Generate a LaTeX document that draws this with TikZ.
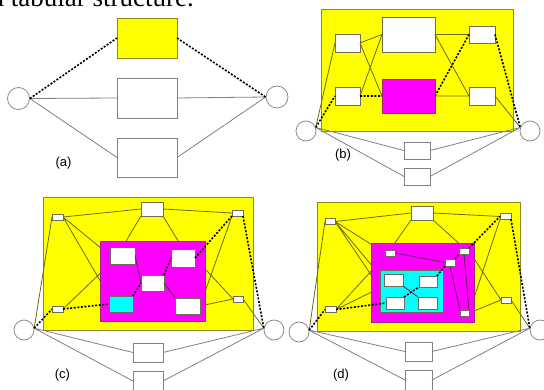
\documentclass[tikz,border=0pt]{standalone}
\usepackage{fontspec}
\setmainfont{Liberation Serif}
\setsansfont{Liberation Sans}
\usepackage{xcolor}
\usetikzlibrary{calc,positioning}
\pgfdeclarelayer{background}
\pgfdeclarelayer{under}
\pgfsetlayers{background,under,main}
\definecolor{color_yellow}{HTML}{FFFF00}
\definecolor{color_magenta}{HTML}{FF00FF}
\definecolor{color_cyan}{HTML}{00FFFF}
\definecolor{color_olive}{HTML}{8C8A1E}
\definecolor{color_olive_dark}{HTML}{6B6A10}
\definecolor{color_gray_link}{HTML}{808080}
\definecolor{color_box_edge}{HTML}{6E6E5A}
\definecolor{color_magenta_edge}{HTML}{9A2A7A}
\definecolor{color_inner_link}{HTML}{5A2A50}
\tikzset{
	sz/.style 2 args={minimum width=#1pt, minimum height=#2pt},
	box/.style={draw=color_box_edge, fill=white, line width=0.7pt, inner sep=0pt, outer sep=0pt},
	box out/.style={box, draw=color_gray_link},
	frame/.style={draw=color_olive, fill=color_yellow, line width=0.9pt, inner sep=0pt},
	term/.style={circle, draw=color_gray_link, fill=white, line width=0.7pt, minimum size=20pt, inner sep=0pt},
	link/.style={color_gray_link, line width=0.8pt},
	link in/.style={color_olive_dark, line width=0.8pt},
	link mag/.style={color_inner_link, line width=0.8pt},
	crit/.style={black, line width=1.6pt, dash pattern=on 2pt off 1.6pt},
	tag/.style={font=\fontsize{13}{15}\sffamily\selectfont},
}
\begin{document}
\begin{tikzpicture}[x=1pt,y=-1pt]
				\useasboundingbox (0, 0) rectangle (544, 390);
				% Cut-off caption line
				\node[anchor=base west, inner sep=0pt, font=\fontsize{27}{30}\selectfont] (caption) at (-8, 7) {a tabular structure.};

				% ---------------- (a)
				\node[term, minimum size=22pt] (a_L) at (18.5, 98.5) {};
				\node[term, minimum size=22pt] (a_R) at (277, 97) {};
				\node[box, fill=color_yellow, draw=color_olive, sz={60}{40}] (a_top) at (147, 38) {};
				\node[box out, sz={60}{40}] (a_mid) at (147, 98) {};
				\node[box out, sz={60}{39}] (a_bot) at (147, 157.5) {};
				\draw[link]
					(a_L.east) -- (a_mid.west)
					(a_L.east) -- (a_bot.west)
					(a_mid.east) -- (a_R.west)
					(a_bot.east) -- (a_R.west)
					;
				\draw[crit]
					(a_L.east) -- (a_top.west)
					(a_top.east) -- (a_R.west)
					;
				\node[tag] (a_tag) at (63.5, 163) {(a)};

				% ---------------- (b)
				\begin{pgfonlayer}{background}
					\node[frame, sz={192}{122}] (b_frame) at (417, 70) {};
				\end{pgfonlayer}
				\node[term] (b_L) at (306, 131) {};
				\node[term] (b_R) at (530, 131) {};
				\coordinate (b_Lp) at (b_L.20);
				\coordinate (b_Rp) at (b_R.160);
				\node[box, sz={25}{18}] (b_tl) at (347.5, 43) {};
				\node[box, sz={25}{18}] (b_bl) at (347.5, 96) {};
				\node[box, sz={53}{35}] (b_big) at (408.5, 34.5) {};
				\node[box, fill=color_magenta, draw=color_magenta_edge, sz={53}{34}] (b_mag) at (408.5, 96) {};
				\node[box, sz={26}{17}] (b_tr) at (482, 34.5) {};
				\node[box, sz={26}{18}] (b_br) at (482, 96) {};
				\node[box out, sz={26}{17}] (b_low1) at (417, 150.5) {};
				\node[box out, sz={26}{17}] (b_low2) at (417, 176.5) {};
				\draw[link in]
					(b_Lp) -- (b_tl.west)
					(b_tl.east) -- (b_big.west)
					(b_tl.east) -- (b_mag.west)
					(b_bl.east) -- (b_big.west)
					(b_big.east) -- (b_tr.west)
					(b_big.east) -- (b_br.west)
					(b_mag.east) -- (b_br.west)
					(b_br.east) -- (b_Rp)
					;
				\draw[link]
					(b_Lp) -- (b_low1.west)
					(b_Lp) -- (b_low2.west)
					(b_low1.east) -- (b_Rp)
					(b_low2.east) -- (b_Rp)
					;
				\draw[crit]
					(b_Lp) -- (b_bl.west)
					(b_bl.east) -- (b_mag.west)
					(b_mag.east) -- (b_tr.west)
					(b_tr.east) -- (b_Rp)
					;
				\node[tag] (b_tag) at (343, 155) {(b)};

				% ---------------- (c)
				\begin{pgfonlayer}{background}
					\node[frame, sz={210}{133}] (c_frame) at (148, 263.5) {};
				\end{pgfonlayer}
				\node[term] (c_L) at (24, 330) {};
				\node[term] (c_R) at (274, 330) {};
				\coordinate (c_Lp) at (c_L.10);
				\coordinate (c_Rp) at (c_R.170);
				\node[box, sz={22}{14}] (c_top) at (152, 209) {};
				\node[box, sz={11}{6}] (c_tl) at (57.5, 217) {};
				\node[box, sz={11}{6}] (c_tr) at (237.5, 213) {};
				\node[box, sz={11}{6}] (c_bl) at (57.5, 309) {};
				\node[box, sz={10}{6}] (c_br) at (238, 299) {};
				\node[box, fill=color_magenta, draw=color_magenta_edge, sz={105}{80}] (c_mag) at (152.5, 281) {};
				\node[box, sz={25}{17}] (c_i1) at (122.5, 255.5) {};
				\node[box, sz={24}{18}] (c_i2) at (183, 258) {};
				\node[box, sz={23}{16}] (c_i3) at (152.5, 283) {};
				\node[box, fill=color_cyan, sz={24}{16}] (c_i4) at (121, 304) {};
				\node[box, sz={25}{16}] (c_i5) at (187.5, 306) {};
				\node[box out, sz={30}{19}] (c_low1) at (148, 352.5) {};
				\node[box out, sz={30}{20}] (c_low2) at (148, 381) {};
				% Links that run under the magenta block
				\begin{pgfonlayer}{under}
					\draw[link in]
						(c_tl.east) -- (c_i1.west)
						(c_tl.east) -- (c_i4.north west)
						(c_bl.east) -- (c_i1.south west)
						(c_top.south west) -- (c_i1.north)
						(c_top.south east) -- (c_i2.north)
						(c_tr.south west) -- (c_i5.east)
						(c_i2.east) -- (c_br.west)
						(c_br.west) -- (c_i5.east)
						;
				\end{pgfonlayer}
				\draw[link in]
					(c_Lp) -- (c_tl.west)
					(c_tl.east) -- (c_top.west)
					(c_top.east) -- (c_tr.west)
					(c_br.east) -- (c_Rp)
					;
				\draw[link mag]
					(c_i1.east) -- (c_i3.west)
					(c_i3.east) -- (c_i5.north west)
					;
				\draw[link]
					(c_Lp) -- (c_low1.west)
					(c_Lp) -- (c_low2.west)
					(c_low1.east) -- (c_Rp)
					(c_low2.east) -- (c_Rp)
					;
				\draw[crit]
					(c_Lp) -- (c_bl.west)
					(c_bl.east) -- (c_i4.west)
					(c_i4.north east) -- (c_i3.west)
					(c_i3.north east) -- (c_i2.west)
					(c_i2.east) -- (c_tr.south west)
					(c_tr.south east) -- (c_Rp)
					;
				\node[tag] (c_tag) at (62.5, 375) {(c)};

				% ---------------- (d)
				\begin{pgfonlayer}{background}
					\node[frame, sz={203}{129}] (d_frame) at (418.5, 266.5) {};
				\end{pgfonlayer}
				\node[term] (d_L) at (299, 332) {};
				\node[term] (d_R) at (540, 330) {};
				\coordinate (d_Lp) at (d_L.10);
				\coordinate (d_Rp) at (d_R.170);
				\node[box, sz={22}{14}] (d_top) at (422, 213) {};
				\node[box, sz={10}{5.5}] (d_tl) at (330, 221.5) {};
				\node[box, sz={11}{5.5}] (d_tr) at (505.5, 216.5) {};
				\node[box, sz={11}{5.5}] (d_bl) at (330.5, 309.5) {};
				\node[box, sz={10}{6}] (d_br) at (506, 300) {};
				\node[box, fill=color_magenta, draw=color_magenta_edge, sz={103}{79}] (d_mag) at (422.5, 282.5) {};
				\node[box, fill=color_cyan, sz={63}{42}] (d_cyan) at (411.5, 291) {};
				\node[box, sz={19}{12}] (d_c1) at (393.5, 280) {};
				\node[box, sz={18}{11}] (d_c2) at (428, 281.5) {};
				\node[box, sz={18}{12}] (d_c3) at (395, 303) {};
				\node[box, sz={19}{12}] (d_c4) at (427.5, 303) {};
				\node[box, sz={10}{6}] (d_m1) at (390, 253) {};
				\node[box, sz={10}{6}] (d_m2) at (464, 251) {};
				\node[box, sz={10}{7}] (d_m3) at (450, 262.5) {};
				\node[box, sz={9}{6}] (d_m4) at (464.5, 313) {};
				\node[box out, sz={27}{19}] (d_low1) at (418.5, 351.5) {};
				\node[box out, sz={27}{20}] (d_low2) at (418.5, 380) {};
				% Links that run under the magenta block
				\begin{pgfonlayer}{under}
					\draw[link in]
						(d_tl.east) -- (d_m1.west)
						(d_tl.east) -- (d_c1.west)
						(d_tl.east) -- (d_c3.north west)
						(d_bl.east) -- (d_m1.south west)
						(d_bl.east) -- (d_c1.south west)
						(d_top.south west) -- (d_m1.north)
						(d_top.south east) -- (d_m2.north)
						(d_tr.south west) -- (d_m4.east)
						(d_m2.east) -- (d_br.west)
						(d_br.west) -- (d_m4.east)
						;
				\end{pgfonlayer}
				\draw[link in]
					(d_Lp) -- (d_tl.west)
					(d_tl.east) -- (d_top.west)
					(d_top.east) -- (d_tr.west)
					(d_br.east) -- (d_Rp)
					;
				\draw[link mag]
					(d_m1.east) -- (d_m3.west)
					(d_m2.south) -- (d_m4.north east)
					(d_m3.south) -- (d_m4.north west)
					(d_c1.south east) -- (d_c4.north west)
					;
				\draw[link]
					(d_Lp) -- (d_low1.west)
					(d_Lp) -- (d_low2.west)
					(d_low1.east) -- (d_Rp)
					(d_low2.east) -- (d_Rp)
					;
				\draw[crit]
					(d_Lp) -- (d_bl.west)
					(d_bl.east) -- (d_c3.west)
					(d_c3.north east) -- (d_c2.south west)
					(d_c2.north east) -- (d_m3.south west)
					(d_m3.north east) -- (d_m2.south west)
					(d_m2.north east) -- (d_tr.west)
					(d_tr.south east) -- (d_Rp)
					;
				\node[tag] (d_tag) at (341, 375) {(d)};
\end{tikzpicture}
\end{document}
